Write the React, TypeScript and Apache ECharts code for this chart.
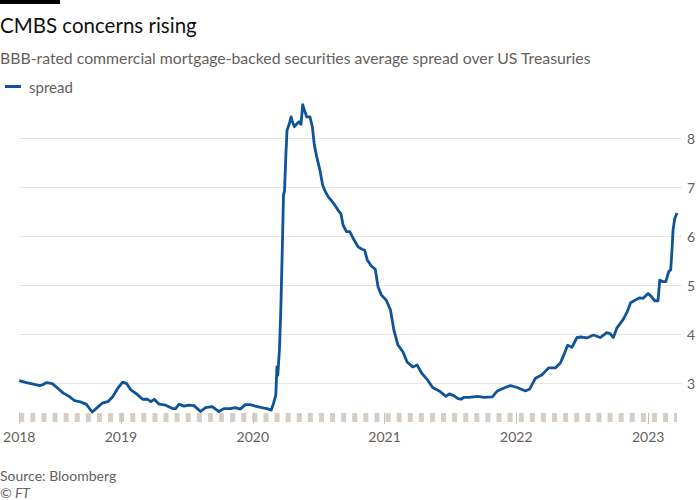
import React, { useEffect, useRef } from "react";
import * as echarts from "echarts";

// Decimal-year dates (weekly-ish readings) and BBB CMBS spread over US Treasuries (%-points)
const dates: number[] = [
  2018.228, 2018.283, 2018.334, 2018.384, 2018.409, 2018.434, 2018.479, 2018.509, 2018.56, 2018.611,
  2018.648, 2018.698, 2018.736, 2018.781, 2018.811, 2018.857, 2018.9, 2018.937, 2018.975, 2019.013,
  2019.043, 2019.075, 2019.118, 2019.164, 2019.202, 2019.226, 2019.252, 2019.29, 2019.34, 2019.39,
  2019.415, 2019.441, 2019.478, 2019.516, 2019.554, 2019.604, 2019.642, 2019.692, 2019.743, 2019.78,
  2019.83, 2019.868, 2019.906, 2019.943, 2019.981, 2020.019, 2020.069, 2020.107, 2020.14, 2020.158,
  2020.175, 2020.183, 2020.19, 2020.203, 2020.213, 2020.226, 2020.233, 2020.241, 2020.251, 2020.26,
  2020.275, 2020.291, 2020.301, 2020.316, 2020.334, 2020.351, 2020.366, 2020.379, 2020.392, 2020.409,
  2020.434, 2020.452, 2020.467, 2020.485, 2020.509, 2020.53, 2020.552, 2020.573, 2020.598, 2020.623,
  2020.649, 2020.668, 2020.686, 2020.711, 2020.736, 2020.762, 2020.799, 2020.829, 2020.849, 2020.869,
  2020.9, 2020.93, 2020.95, 2020.975, 2021.013, 2021.045, 2021.071, 2021.101, 2021.139, 2021.171,
  2021.214, 2021.247, 2021.282, 2021.328, 2021.365, 2021.415, 2021.466, 2021.491, 2021.528, 2021.554,
  2021.579, 2021.604, 2021.642, 2021.705, 2021.755, 2021.818, 2021.856, 2021.906, 2021.956, 2022.007,
  2022.069, 2022.102, 2022.145, 2022.195, 2022.245, 2022.296, 2022.334, 2022.358, 2022.389, 2022.422,
  2022.46, 2022.497, 2022.535, 2022.585, 2022.636, 2022.686, 2022.711, 2022.736, 2022.762, 2022.811,
  2022.842, 2022.867, 2022.9, 2022.937, 2022.962, 2023.0, 2023.026, 2023.051, 2023.075, 2023.088,
  2023.113, 2023.134, 2023.156, 2023.171, 2023.181, 2023.189, 2023.202, 2023.219,
];

const spread: number[] = [
  3.05, 3.01, 2.98, 2.95, 2.97, 3.01, 2.99, 2.92, 2.8, 2.72,
  2.64, 2.61, 2.57, 2.41, 2.48, 2.59, 2.62, 2.72, 2.89, 3.02,
  2.99, 2.86, 2.78, 2.67, 2.67, 2.62, 2.67, 2.57, 2.55, 2.48,
  2.48, 2.57, 2.53, 2.55, 2.54, 2.42, 2.5, 2.52, 2.42, 2.48,
  2.48, 2.5, 2.47, 2.56, 2.56, 2.53, 2.5, 2.48, 2.45, 2.59,
  2.76, 3.33, 3.16, 3.71, 4.52, 5.95, 6.84, 6.92, 7.65, 8.16,
  8.27, 8.43, 8.33, 8.23, 8.29, 8.33, 8.28, 8.68, 8.57, 8.43,
  8.43, 8.23, 7.86, 7.62, 7.35, 7.04, 6.9, 6.8, 6.72, 6.63,
  6.52, 6.46, 6.22, 6.09, 6.09, 5.95, 5.78, 5.73, 5.71, 5.51,
  5.39, 5.32, 4.97, 4.8, 4.69, 4.49, 4.08, 3.78, 3.64, 3.43,
  3.33, 3.37, 3.2, 3.06, 2.91, 2.84, 2.73, 2.78, 2.74, 2.69,
  2.67, 2.71, 2.71, 2.73, 2.71, 2.72, 2.84, 2.9, 2.95, 2.91,
  2.84, 2.88, 3.1, 3.17, 3.31, 3.31, 3.41, 3.56, 3.77, 3.73,
  3.93, 3.94, 3.92, 3.98, 3.93, 4.03, 4.01, 3.93, 4.12, 4.3,
  4.46, 4.64, 4.69, 4.74, 4.73, 4.83, 4.76, 4.68, 4.68, 5.1,
  5.07, 5.07, 5.27, 5.31, 5.71, 6.12, 6.36, 6.47,
];

const yearTicks: number[] = [2019, 2020, 2021, 2022, 2023];
const yTicks: number[] = [3, 4, 5, 6, 7, 8];

const FONT = "Lato, 'Noto Sans', sans-serif";
const GREY = "#66605c";
const GRID = "#ece6e0";

export default function App() {
  const ref = useRef<HTMLDivElement>(null);
  useEffect(() => {
    if (!ref.current) return;
    const chart = echarts.init(ref.current, null, { renderer: "svg" });
    const xMin = dates[0];
    const xMax = dates[dates.length - 1];
    const yMin = Math.min(...spread) - 0.01;
    const yMax = Math.max(...spread) + 0.02;
    chart.setOption({
      animation: false,
      backgroundColor: "#ffffff",
      textStyle: { fontFamily: FONT },
      grid: { left: 16, right: 23, top: 103.7, bottom: 87.5, containLabel: false },
      legend: {
        data: ["spread"],
        left: 0,
        top: 74,
        icon: "rect",
        itemWidth: 16,
        itemHeight: 3,
        textStyle: { color: GREY, fontSize: 15, fontFamily: FONT, padding: [0, 0, 0, 3] },
      },
      xAxis: [
        {
          type: "value",
          min: xMin,
          max: xMax,
          position: "bottom",
          z: 1,
          axisLine: { show: false },
          axisTick: {
            show: true,
            length: 11.5,
            customValues: [xMin, ...yearTicks],
            lineStyle: { color: "#c9c0b7", width: 1 },
          },
          axisLabel: {
            show: true,
            customValues: [xMin, ...yearTicks],
            formatter: (v: number) => String(Math.floor(v + 1e-6)),
            color: GREY,
            fontSize: 14,
            fontFamily: FONT,
            margin: 17,
          },
          splitLine: { show: false },
        },
        {
          type: "value",
          min: xMin,
          max: xMax,
          position: "bottom",
          offset: 5,
          z: 0,
          axisLine: {
            show: true,
            lineStyle: { color: "#d6cdc4", width: 9, type: [5, 6.1], cap: "butt" },
          },
          axisTick: { show: false },
          axisLabel: { show: false },
          splitLine: { show: false },
        },
      ],
      yAxis: {
        type: "value",
        position: "right",
        min: yMin,
        max: yMax,
        axisLine: { show: false },
        axisTick: {
          show: true,
          length: 5,
          customValues: yTicks,
          lineStyle: { color: GRID, width: 1 },
        },
        axisLabel: {
          customValues: yTicks,
          color: GREY,
          fontSize: 14,
          fontFamily: FONT,
          margin: 10,
          verticalAlign: "middle",
          padding: [3, 0, 0, 0],
        },
        splitLine: { show: true, lineStyle: { color: GRID, width: 1 } },
      },
      series: [
        {
          name: "spread",
          type: "line",
          xAxisIndex: 0,
          data: dates.map((d, i) => [d, spread[i]]),
          showSymbol: false,
          symbol: "none",
          lineStyle: { color: "#0f5499", width: 2.8, join: "round" },
          itemStyle: { color: "#0f5499" },
          z: 3,
        },
      ],
      graphic: [
        { type: "rect", shape: { x: 0, y: 0, width: 60, height: 4 }, style: { fill: "#000000" } },
        {
          type: "text",
          x: 0,
          y: 25,
          style: { text: "CMBS concerns rising", fill: "#111111", fontSize: 20.5, fontFamily: FONT, verticalAlign: "middle" },
        },
        {
          type: "text",
          x: 0,
          y: 57.5,
          style: {
            text: "BBB-rated commercial mortgage-backed securities average spread over US Treasuries",
            fill: GREY,
            fontSize: 15.8,
            fontFamily: FONT,
            verticalAlign: "middle",
          },
        },
        {
          type: "text",
          x: 0,
          y: 475,
          style: { text: "Source: Bloomberg", fill: GREY, fontSize: 14, fontFamily: FONT, verticalAlign: "middle" },
        },
        {
          type: "text",
          x: 0,
          y: 492,
          style: { text: "© FT", fill: GREY, fontSize: 14, fontStyle: "italic", fontFamily: FONT, verticalAlign: "middle" },
        },
      ],
    });
    return () => chart.dispose();
  }, []);
  return <div ref={ref} style={{ position: "fixed", left: 0, top: 0, width: 700, height: 500 }} />;
}
